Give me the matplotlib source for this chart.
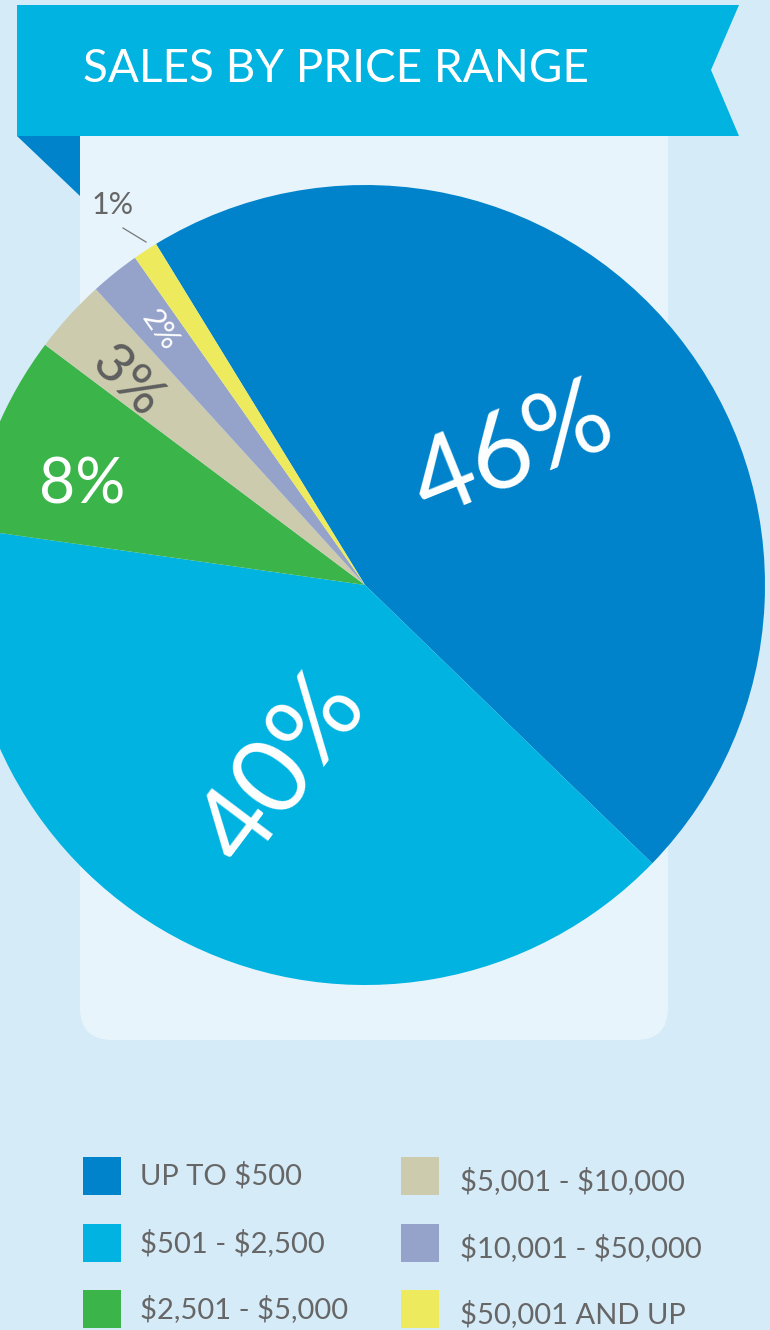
import matplotlib
matplotlib.use("Agg")
import matplotlib.pyplot as plt
from matplotlib.patches import Polygon, FancyBboxPatch, Rectangle

plt.rcParams['font.family'] = ['Lato', 'DejaVu Sans']
plt.rcParams['text.parse_math'] = False

categories = ["UP TO $500", "$501 - $2,500", "$2,501 - $5,000",
              "$5,001 - $10,000", "$10,001 - $50,000", "$50,001 AND UP"]
shares = [46, 40, 8, 3, 2, 1]
colors = ["#0083cb", "#00b3e0", "#3bb54a", "#cccbad", "#95a2c9", "#eeea5e"]
title = "SALES BY PRICE RANGE"

W, H = 770, 1330
fig = plt.figure(figsize=(W / 100, H / 100), dpi=100)
fig.patch.set_facecolor("#d5ebf8")
ax = fig.add_axes([0, 0, 1, 1])


def py(y):
    # pixel row (from top) -> data y
    return H - y


# light panel behind the pie
panel = FancyBboxPatch((80, py(1040)), 588, 940,
                       boxstyle="round,pad=0,rounding_size=32",
                       facecolor="#e7f4fc", edgecolor="none", zorder=0)
ax.add_patch(panel)

# pie
wedges, _ = ax.pie(shares, colors=colors, startangle=121.5, counterclock=False,
                   center=(365, py(585)), radius=400, frame=True,
                   wedgeprops=dict(linewidth=0, zorder=2))

# banner
ax.add_patch(Polygon([(17, py(5)), (739, py(5)), (711, py(70)), (739, py(136)),
                      (17, py(136))], closed=True, facecolor="#00b3e0",
                     edgecolor="none", zorder=3))
ax.add_patch(Polygon([(17, py(136)), (80, py(136)), (80, py(196))], closed=True,
                     facecolor="#0083cb", edgecolor="none", zorder=3))
ax.text(83, py(69), title, color="white", fontsize=33,
        ha="left", va="center", zorder=4)

# slice labels
ax.text(513, py(452), "46%", color="white", fontsize=76, rotation=22,
        ha="center", va="center", rotation_mode="anchor", zorder=4)
ax.text(283, py(770), "40%", color="white", fontsize=76, rotation=53,
        ha="center", va="center", rotation_mode="anchor", zorder=4)
ax.text(82, py(485), "8%", color="white", fontsize=45,
        ha="center", va="center", zorder=4)
ax.text(127, py(382), "3%", color="#5f5f5f", fontsize=40, rotation=-45,
        ha="center", va="center", rotation_mode="anchor", zorder=4)
ax.text(160, py(330), "2%", color="white", fontsize=22, rotation=-55,
        ha="center", va="center", rotation_mode="anchor", zorder=4)
ax.text(113, py(205), "1%", color="#666666", fontsize=22,
        ha="center", va="center", zorder=4)
ax.plot([123, 146], [py(228), py(242)], color="#777777", lw=0.9, zorder=4)

# legend
sq_x = [83, 401]
txt_x = [140, 460]
rows = [1157, 1224, 1290]
txt_dy = [0, 5]
for i, (lab, col) in enumerate(zip(categories, colors)):
    c, r = divmod(i, 3)
    ax.add_patch(Rectangle((sq_x[c], py(rows[r] + 38)), 38, 38,
                           facecolor=col, edgecolor="none", zorder=4))
    ax.text(txt_x[c], py(rows[r] + 19 + txt_dy[c]), lab, color="#666666",
            fontsize=21, ha="left", va="center", zorder=4)

ax.set_xlim(0, W)
ax.set_ylim(0, H)
ax.set_aspect("equal")
ax.axis("off")

fig.savefig("out.png", dpi=100, facecolor=fig.get_facecolor())
